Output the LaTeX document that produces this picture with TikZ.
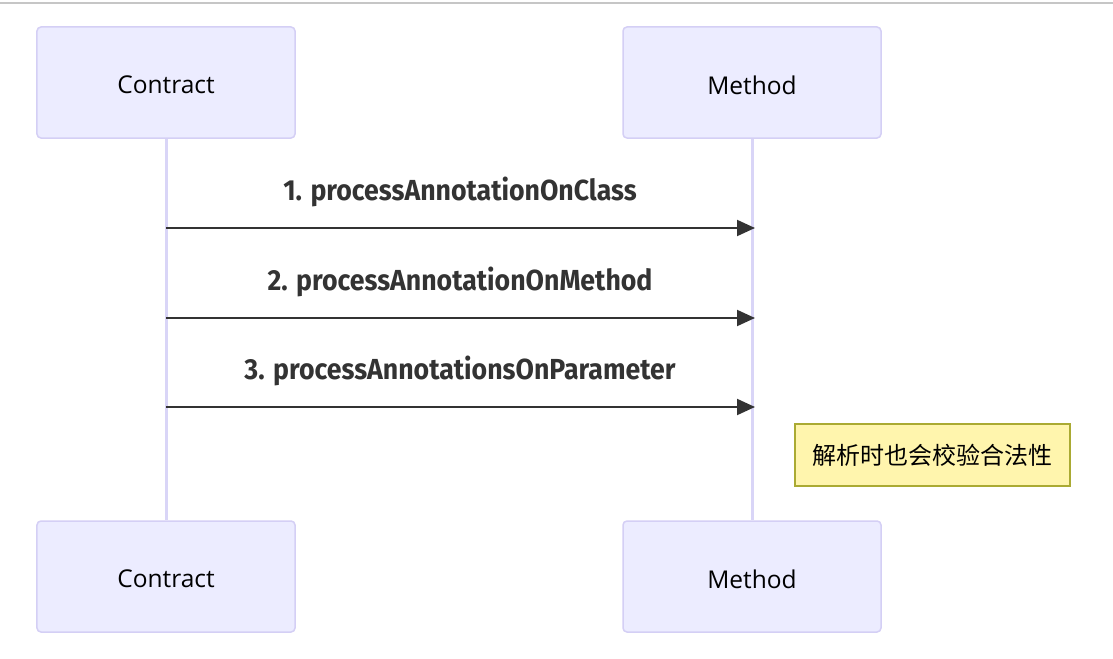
\documentclass[tikz,border=0pt]{standalone}
\usepackage{fontspec}
\setmainfont{Open Sans}
\newfontfamily\msgfont[FakeStretch=0.92]{Fira Sans}
\newfontfamily\cjk{Noto Sans CJK SC}
\usetikzlibrary{arrows.meta,backgrounds}
\definecolor{actfill}{HTML}{ECECFF}
\definecolor{actdraw}{HTML}{D4CFF5}
\definecolor{lifeline}{HTML}{D9D5F7}
\definecolor{msgcol}{HTML}{333333}
\definecolor{notefill}{HTML}{FFF5AD}
\definecolor{notedraw}{HTML}{AAAA33}
\newcommand{\actortext}[1]{\raisebox{-2.5bp}[\height][\depth]{#1}}
\tikzset{
  actor/.style={draw=actdraw, line width=1.5bp, fill=actfill, rounded corners=4bp,
    minimum width=258bp, minimum height=111bp, inner sep=0pt,
    font=\fontsize{24.5bp}{28bp}\selectfont},
  lifel/.style={draw=lifeline, line width=3bp},
  msg/.style={draw=msgcol, line width=2bp, -{Triangle[length=18bp,width=16bp]}},
  msglabel/.style={font=\msgfont\bfseries\fontsize{29bp}{34bp}\selectfont, text=msgcol},
  note/.style={draw=notedraw, line width=1.5bp, fill=notefill, minimum width=275bp,
    minimum height=62bp, inner sep=0pt, font=\cjk\fontsize{24bp}{28bp}\selectfont}
}
\begin{document}
\begin{tikzpicture}[x=1bp,y=-1bp]
\useasboundingbox (0,0) rectangle (1113,659);
\coordinate (tl) at (0,3);
\coordinate (tr) at (1113,3);
\draw[draw=gray!45, line width=1.5bp] (tl) -- (tr);
% actors
\node[actor] (c1) at (166,82.5) {\actortext{Contract}};
\node[actor] (m1) at (752,82.5) {\actortext{Method}};
\node[actor] (c2) at (166,576.5) {\actortext{Contract}};
\node[actor] (m2) at (752,576.5) {\actortext{Method}};
% lifelines
\begin{scope}[on background layer]
\fill[white] (0,0) rectangle (1113,659);
\draw[lifel] (c1.south) -- (c2.north);
\draw[lifel] (m1.south) -- (m2.north);
\end{scope}
% messages
\coordinate (a1s) at (166,228); \coordinate (a1e) at (755,228);
\coordinate (a2s) at (166,318); \coordinate (a2e) at (755,318);
\coordinate (a3s) at (166,407); \coordinate (a3e) at (755,407);
\draw[msg] (a1s) -- (a1e);
\draw[msg] (a2s) -- (a2e);
\draw[msg] (a3s) -- (a3e);
\node[msglabel] (l1) at (460,191.5) {1. processAnnotationOnClass};
\node[msglabel] (l2) at (460,281.5) {2. processAnnotationOnMethod};
\node[msglabel] (l3) at (460,370.5) {3. processAnnotationsOnParameter};
% note
\node[note] (n1) at (932.5,455) {解析时也会校验合法性};
\end{tikzpicture}
\end{document}
